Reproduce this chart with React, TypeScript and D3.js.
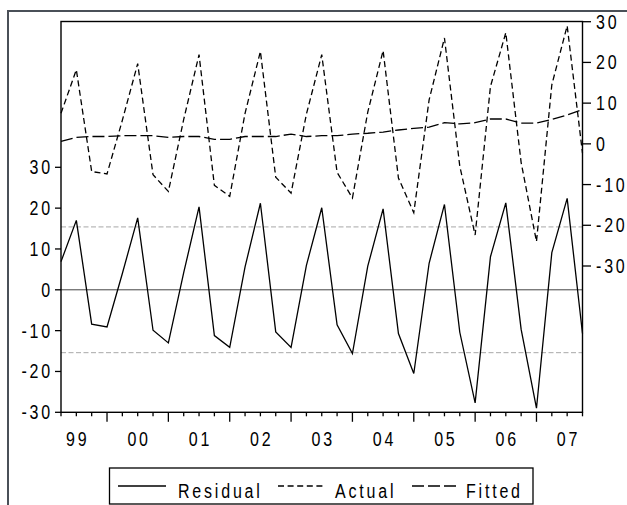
import React from "react";
import * as d3 from "d3";

const yearLabels = ["99", "00", "01", "02", "03", "04", "05", "06", "07"];
const residual = [6.9, 17.0, -8.4, -9.1, 4.0, 17.6, -9.9, -13.0, 4.2, 20.3, -11.2, -14.1, 5.6, 21.2, -10.3, -14.1, 6.0, 20.1, -8.6, -15.6, 5.8, 19.8, -10.7, -20.5, 6.5, 20.9, -10.4, -27.7, 8.1, 21.3, -9.7, -29.0, 9.1, 22.4, -10.7];
const actual = [7.5, 18.2, -6.8, -7.4, 5.8, 19.7, -7.6, -11.7, 6.0, 21.9, -10.2, -12.9, 7.5, 22.7, -8.2, -12.1, 7.3, 21.9, -7.0, -13.3, 7.8, 22.9, -8.4, -16.9, 10.8, 26.0, -5.5, -22.4, 14.1, 27.3, -4.6, -24.0, 14.5, 29.0, -2.3];
const fitted = [0.6, 1.6, 1.8, 1.8, 2.0, 2.0, 2.0, 1.6, 1.8, 1.8, 1.1, 1.1, 1.8, 1.8, 1.8, 2.4, 1.8, 2.0, 2.0, 2.4, 2.6, 2.9, 3.4, 3.8, 4.1, 5.2, 4.9, 5.2, 6.1, 6.1, 5.1, 5.1, 6.0, 7.1, 8.4];
const leftTicks = [-30, -20, -10, 0, 10, 20, 30];
const rightTicks = [-30, -20, -10, 0, 10, 20, 30];
const seBand = 15.4;
const legendItems = ["Residual", "Actual", "Fitted"];

const FONT = "'Liberation Sans', Arial, sans-serif";
const FS = 20;
const SX = 0.8;
const LS = 3.5;

function T({ x, y, anchor = "start", children }: any) {
  return (
    <text
      transform={`translate(${x},${y}) scale(${SX},1)`}
      textAnchor={anchor}
      fontFamily={FONT}
      fontSize={FS}
      letterSpacing={LS}
      fill="#000"
    >
      {children}
    </text>
  );
}

export default function App() {
  const L = 61, R = 582.5, TOP = 21.5, BOT = 412.3;
  const idx = d3.range(residual.length);
  const x = d3.scaleLinear().domain([0, residual.length - 1]).range([L, R]);
  const yL = d3.scaleLinear().domain([-30, 30]).range([412.3, 167.3]);
  const yR = d3.scaleLinear().domain([-30, 30]).range([266, 21.7]);

  const lineL = d3.line<number>().x((_, i) => x(i)).y((d) => yL(d));
  const lineR = d3.line<number>().x((_, i) => x(i)).y((d) => yR(d));

  const legendLines = [
    { x1: 118, x2: 166, dash: undefined, tx: 178 },
    { x1: 278, x2: 326, dash: "6,3.6", tx: 335 },
    { x1: 412, x2: 458, dash: "12,4", tx: 466 },
  ];

  return (
    <svg
      width={627}
      height={505}
      style={{ position: "absolute", left: 0, top: 0, background: "#fff" }}
    >
      <rect x={0} y={0} width={627} height={505} fill="#fff" />
      {/* outer frame */}
      <path d="M8,510 L8,11 L630,11" fill="none" stroke="#4a5058" strokeWidth={2} />

      {/* SE band lines */}
      {[seBand, -seBand].map((v) => (
        <line key={v} x1={L} x2={R} y1={yL(v)} y2={yL(v)} stroke="#a8a8a8" strokeWidth={1} strokeDasharray="5,2.5" />
      ))}
      {/* zero line */}
      <line x1={L} x2={R} y1={yL(0)} y2={yL(0)} stroke="#444" strokeWidth={1} />

      {/* series */}
      <path d={lineR(fitted) || ""} fill="none" stroke="#000" strokeWidth={1.3} strokeDasharray="12,4" />
      <path d={lineR(actual) || ""} fill="none" stroke="#000" strokeWidth={1.3} strokeDasharray="6,3.5" />
      <path d={lineL(residual) || ""} fill="none" stroke="#000" strokeWidth={1.3} />

      {/* plot frame */}
      <rect x={L} y={TOP} width={R - L} height={BOT - TOP} fill="none" stroke="#000" strokeWidth={1.4} />

      {/* left axis */}
      {leftTicks.map((t) => (
        <g key={"l" + t}>
          <line x1={55} x2={L} y1={yL(t)} y2={yL(t)} stroke="#000" strokeWidth={1.3} />
          <T x={53} y={yL(t) + 7} anchor="end">{String(t)}</T>
        </g>
      ))}
      {/* right axis */}
      {rightTicks.map((t) => (
        <g key={"r" + t}>
          <line x1={R} x2={591} y1={yR(t)} y2={yR(t)} stroke="#000" strokeWidth={1.3} />
          <T x={596} y={yR(t) + 7}>{String(t)}</T>
        </g>
      ))}
      {/* x axis ticks */}
      {idx.map((i) => {
        const major = i % 4 === 3 && i < residual.length - 1;
        return (
          <line key={"x" + i} x1={x(i)} x2={x(i)} y1={BOT} y2={BOT + (major ? 9.5 : 4)} stroke="#000" strokeWidth={1.3} />
        );
      })}
      {yearLabels.map((lab, k) => (
        <T key={lab} x={x(1 + 4 * k) + 1.4} y={446} anchor="middle">{lab}</T>
      ))}

      {/* legend */}
      <rect x={109.5} y={468} width={423.5} height={36} fill="#fff" stroke="#000" strokeWidth={1.3} />
      {legendItems.map((name, k) => {
        const li = legendLines[k];
        return (
          <g key={name}>
            <line x1={li.x1} x2={li.x2} y1={486} y2={486} stroke="#000" strokeWidth={1.3} strokeDasharray={li.dash} />
            <T x={li.tx} y={498}>{name}</T>
          </g>
        );
      })}
    </svg>
  );
}
